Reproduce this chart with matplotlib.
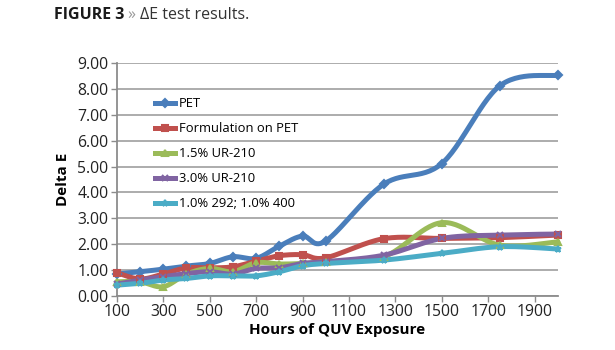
import numpy as np
import matplotlib
matplotlib.use("Agg")
import matplotlib.pyplot as plt

FONT = "Open Sans"
plt.rcParams["font.family"] = [FONT, "DejaVu Sans"]

hours = [100, 200, 300, 400, 500, 600, 700, 800, 900, 1000, 1250, 1500, 1750, 2000]
pet = [0.84, 0.93, 1.03, 1.15, 1.25, 1.51, 1.45, 1.92, 2.31, 2.12, 4.32, 5.12, 8.13, 8.54]
formulation = [0.89, 0.65, 0.84, 1.08, 1.08, 1.12, 1.34, 1.55, 1.59, 1.47, 2.21, 2.22, 2.25, 2.35]
ur15 = [0.54, 0.54, 0.35, 0.84, 1.06, 0.93, 1.28, 1.23, 1.25, 1.32, 1.51, 2.83, 1.96, 2.09]
ur30 = [0.45, 0.61, 0.74, 0.86, 0.93, 0.84, 1.06, 1.08, 1.25, 1.32, 1.57, 2.22, 2.35, 2.39]
mix = [0.41, 0.48, 0.61, 0.67, 0.77, 0.77, 0.77, 0.93, 1.16, 1.25, 1.38, 1.64, 1.90, 1.81]

names = ["PET", "Formulation on PET", "1.5% UR-210", "3.0% UR-210", "1.0% 292; 1.0% 400"]
series = [pet, formulation, ur15, ur30, mix]
colors = ["#4A7EBB", "#C0504D", "#9BBB59", "#8064A2", "#4BACC6"]
markers = ["D", "s", "^", "x", "*"]

x_ticks = list(range(100, 2000, 200))
y_ticks = np.arange(0, 10, 1)

# px per data unit, used so the smoothing behaves like Excel's (screen space)
SX, SY = 23.2 / 100, 25.8


def smooth(x, y, n=30):
    # Excel-style smoothed line: bezier with 1/6 neighbour tangents
    p = np.column_stack([np.array(x) * SX, np.array(y) * SY])
    p = np.vstack([p[0], p, p[-1]])
    out = []
    t = np.linspace(0, 1, n)[:, None]
    for i in range(1, len(p) - 2):
        p0, p3 = p[i], p[i + 1]
        p1 = p0 + (p[i + 1] - p[i - 1]) / 6
        p2 = p3 - (p[i + 2] - p[i]) / 6
        seg = ((1 - t) ** 3) * p0 + 3 * ((1 - t) ** 2) * t * p1 + 3 * (1 - t) * t ** 2 * p2 + t ** 3 * p3
        out.append(seg)
    out = np.vstack(out)
    return out[:, 0] / SX, out[:, 1] / SY


fig = plt.figure(figsize=(6.15, 3.5), dpi=100)
ax = fig.add_axes([0.190, 0.155, 0.717, 0.664])

for vals, name, c, m in zip(series, names, colors, markers):
    sx, sy = smooth(hours, vals)
    ax.plot(sx, sy, color=c, lw=3.6, solid_capstyle="round", clip_on=False, zorder=3)
    ax.plot(hours, vals, ls="none", marker=m, color=c, ms=4.5, mew=1.5,
            clip_on=False, zorder=4)
    ax.plot([], [], color=c, lw=3.6, marker=m, ms=4.5, mew=1.5, label=name)

ax.set_xlim(100, 2000)
ax.set_ylim(0, 9)
ax.set_xticks(x_ticks)
ax.set_yticks(y_ticks)
ax.set_yticklabels([f"{v:.2f}" for v in y_ticks])
ax.tick_params(labelsize=11.3, colors="#222222", length=4, width=1, pad=2)
ax.tick_params(axis="both", color="#8C8C8C")
ax.grid(axis="y", color="#A6A6A6", lw=1.3)
ax.set_axisbelow(True)
for s in ["top", "right"]:
    ax.spines[s].set_visible(False)
for s in ["left", "bottom"]:
    ax.spines[s].set_color("#8C8C8C")
    ax.spines[s].set_linewidth(1.3)

ax.set_xlabel("Hours of QUV Exposure", fontsize=11, fontweight="bold", labelpad=2)
ax.set_ylabel("Delta E", fontsize=11, fontweight="bold", labelpad=5)

leg = ax.legend(loc="upper left", bbox_to_anchor=(0.06, 0.905), frameon=False,
                fontsize=9.4, handlelength=1.5, handletextpad=0.3, labelspacing=0.92)

t1 = fig.text(0.087, 0.945, "FIGURE 3", fontsize=11.5, fontweight="bold", color="#1A1A1A")
t2 = ax.annotate(" \u00bb ", xy=(1, 0), xycoords=t1, va="bottom", fontsize=11.5, color="#999999")
ax.annotate("\u0394E test results.", xy=(1, 0), xycoords=t2, va="bottom", fontsize=11.5,
            color="#333333")

fig.savefig("out.png", dpi=100)
